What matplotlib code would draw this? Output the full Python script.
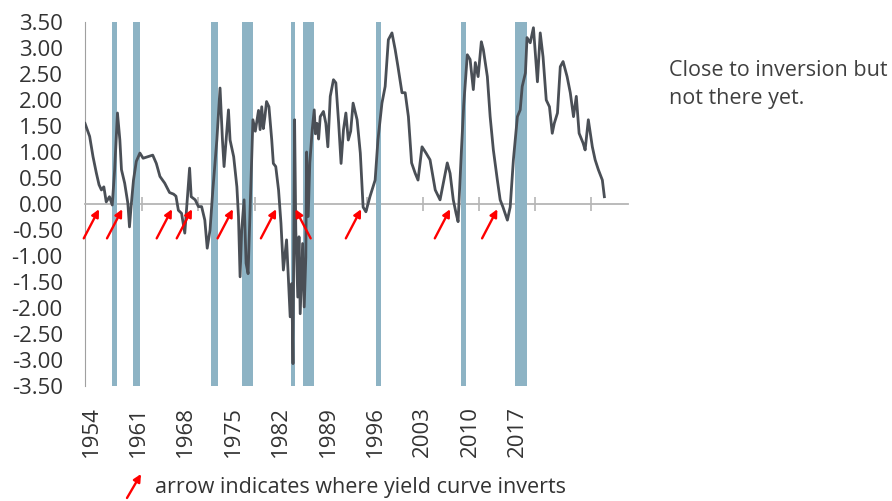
"""
Yield curve spread with recessions and inversion markers
"""

import numpy as np
import matplotlib.pyplot as plt

plt.rcParams['font.family'] = ['Open Sans', 'DejaVu Sans']

# spread readings (decimal year, value)
years = [1954.25, 1954.83, 1955.25, 1955.66, 1956.0, 1956.3, 1956.6, 1956.9, 1957.3, 1957.65,
         1957.95, 1958.3, 1958.6, 1958.8, 1959.2, 1959.6, 1959.8, 1960.0, 1960.3, 1960.65,
         1961.1, 1961.5, 1962.1, 1962.7, 1963.15, 1963.6, 1964.2, 1964.8, 1965.3, 1965.6,
         1965.9, 1966.3, 1966.7, 1966.95, 1967.3, 1967.5, 1968.0, 1968.4, 1968.8, 1969.2,
         1969.5, 1969.85, 1970.2, 1970.7, 1971.1, 1971.4, 1971.6, 1971.95, 1972.15, 1972.35,
         1972.8, 1973.2, 1973.4, 1973.6, 1973.8, 1974.1, 1974.35, 1974.6, 1974.9, 1975.2,
         1975.5, 1975.9, 1976.1, 1976.3, 1976.5, 1976.7, 1976.9, 1977.2, 1977.55, 1977.75, 1978.05,
         1978.4, 1978.7, 1979.0, 1979.4, 1979.6, 1979.85, 1980.05, 1980.2, 1980.4, 1980.55,
         1980.8, 1980.95, 1981.1, 1981.4, 1981.6, 1981.8, 1981.9, 1982.1, 1982.3, 1982.6,
         1982.85, 1983.0, 1983.2, 1983.4, 1983.6, 1984.0, 1984.3, 1984.55, 1984.85, 1985.25, 1985.55, 1985.9,
         1986.2, 1986.5, 1986.8, 1987.1, 1987.4, 1987.7, 1988.2, 1988.6, 1988.95, 1989.3, 1989.8,
         1990.45, 1990.8, 1991.3, 1991.7, 1992.1, 1992.55, 1992.95, 1993.3, 1993.8, 1994.2,
         1994.6, 1995.0, 1995.45, 1995.8, 1996.3, 1996.8, 1997.3, 1997.95, 1998.55, 1998.95,
         1999.45, 1999.8, 2000.2, 2000.55, 2000.8, 2001.2, 2001.5, 2001.95, 2002.3, 2002.7,
         2002.95, 2003.3, 2003.7, 2003.95, 2004.45, 2004.8, 2005.2, 2005.7, 2006.05, 2006.4,
         2006.95, 2007.3, 2007.7, 2008.2, 2008.55, 2008.8, 2009.2, 2009.4, 2009.8, 2010.2,
         2010.4, 2010.7, 2011.05, 2011.4, 2011.8, 2012.2, 2012.55, 2012.8, 2013.2, 2013.55,
         2013.9, 2014.4, 2014.8, 2015.2, 2015.55, 2015.9, 2016.4, 2016.65, 2017.05, 2017.55,
         2017.9, 2018.3, 2018.8, 2019.05]
spread = [1.55, 1.30, 0.91, 0.60, 0.37, 0.27, 0.33, 0.04, 0.14, -0.02,
          0.66, 1.75, 1.23, 0.66, 0.40, 0.01, -0.44, -0.05, 0.46, 0.82,
          0.98, 0.88, 0.91, 0.94, 0.78, 0.53, 0.40, 0.22, 0.19, 0.15,
          -0.12, -0.18, -0.56, -0.05, 0.69, 0.14, 0.08, -0.05, -0.05, -0.31,
          -0.85, -0.50, 0.27, 1.23, 2.23, 1.23, 0.72, 1.43, 1.81, 1.23,
          0.91, 0.33, -0.24, -1.40, -0.50, 0.08, -1.14, -1.34, 0.14, 1.62,
          1.40, 1.80, 1.43, 1.87, 1.45, 1.68, 1.97, 1.87, 1.23, 0.78, 0.72,
          0.27, -0.37, -1.27, -0.69, -1.34, -2.17, -1.53, -3.07, 1.62, -0.50,
          -1.79, -0.63, -2.11, -0.76, -1.98, -1.02, 1.00, -0.24, 0.79, 1.43,
          1.81, 1.35, 1.55, 1.25, 1.68, 1.78, 1.55, 1.10, 2.07, 2.39, 2.33, 1.55,
          0.78, 1.43, 1.75, 1.23, 1.40, 1.94, 1.62, 0.98, -0.06, -0.15, 0.14,
          0.46, 1.23, 1.94, 2.26, 3.16, 3.29, 2.97, 2.64, 2.14, 2.14,
          1.68, 0.79, 0.59, 0.46, 1.10, 0.98, 0.85, 0.27, 0.08, 0.40,
          0.79, 0.59, 0.08, -0.18, -0.34, 0.98, 1.90, 2.87, 2.78, 2.20,
          2.72, 2.45, 3.12, 2.97, 2.45, 1.68, 1.04, 0.46, 0.08, -0.06,
          -0.31, -0.06, 0.85, 1.68, 1.81, 2.26, 2.52, 3.20, 3.10, 3.39,
          2.97, 2.35, 3.29, 2.83, 2.00, 1.87, 1.36, 1.55, 1.75, 2.64,
          2.74, 2.45, 2.14, 1.68, 2.07, 1.36, 1.17, 1.04, 1.62, 1.10,
          0.85, 0.66, 0.46, 0.14]

# recessions (start, end)
rec_start = [1957.58, 1960.25, 1969.92, 1973.83, 1980.0, 1981.5, 1990.5, 2001.17, 2007.92]
rec_end = [1958.25, 1961.08, 1970.83, 1975.17, 1980.5, 1982.83, 1991.17, 2001.83, 2009.42]

# inversion arrows: head year, arrow leans right (+1) or left (-1)
inv_years = [1956.0, 1958.9, 1965.1, 1967.6, 1972.7, 1978.1, 1980.5, 1988.7, 1999.8, 2005.7]
inv_dir = [1, 1, 1, 1, 1, 1, -1, 1, 1, 1]

tick_years = [1961.4, 1968.4, 1975.4, 1982.4, 1989.4, 1996.4, 2003.4, 2010.4, 2017.4]
year_labels = ['1954', '1961', '1968', '1975', '1982', '1989', '1996', '2003', '2010', '2017']

W, H = 892, 501
fig = plt.figure(figsize=(W / 100, H / 100), dpi=100)
ax = fig.add_axes([85 / W, 1 - 386 / H, (628 - 85) / W, (386 - 22) / H])

for s, e in zip(rec_start, rec_end):
    ax.axvspan(s, e, color='#8db3c4', lw=0, zorder=2.6)

ax.plot(years, spread, color='#4a4f56', lw=2.0, zorder=3)

for yr, d in zip(inv_years, inv_dir):
    ax.annotate('', xy=(yr, -0.1), xytext=(-11 * d, -21), textcoords='offset points',
                arrowprops=dict(arrowstyle='-|>', color='red', lw=1.7, mutation_scale=11,
                                shrinkA=0, shrinkB=0), zorder=4)

ax.set_xlim(1954.25, 2022.0)
ax.set_ylim(-3.5, 3.5)
yt = np.arange(-3.5, 3.51, 0.5)
ax.set_yticks(yt)
ax.set_yticklabels(['{:.2f}'.format(v) for v in yt])
ax.tick_params(axis='y', length=0, pad=16, labelsize=16, labelcolor='#333333')

ax.spines['bottom'].set_position(('data', 0))
ax.spines['bottom'].set_color('#b5b5b5')
ax.spines['bottom'].set_linewidth(1.3)
ax.spines['left'].set_color('#a0a0a0')
ax.spines['right'].set_visible(False)
ax.spines['top'].set_visible(False)
ax.set_xticks(tick_years)
ax.set_xticklabels([])
ax.tick_params(axis='x', direction='inout', length=10, width=1.2, color='#b5b5b5')

for i, lab in enumerate(year_labels):
    fig.text((91 + 47.4 * i) / W, 1 - 406 / H, lab, rotation=90, ha='center', va='top',
             fontsize=16, color='#333333')

fig.text(669 / W, 1 - 70 / H, 'Close to inversion but', ha='left', va='center',
         fontsize=15.5, color='#404040')
fig.text(669 / W, 1 - 98 / H, 'not there yet.', ha='left', va='center',
         fontsize=15.5, color='#404040')

fig.add_artist(plt.matplotlib.patches.FancyArrowPatch(
    (127 / W, 1 - 498 / H), (141 / W, 1 - 474 / H), transform=fig.transFigure,
    arrowstyle='-|>', color='red', lw=1.7, mutation_scale=11, shrinkA=0, shrinkB=0))
fig.text(155 / W, 1 - 487 / H, 'arrow indicates where yield curve inverts', ha='left',
         va='center', fontsize=15.5, color='#333333')

plt.savefig('out.png', dpi=100)
